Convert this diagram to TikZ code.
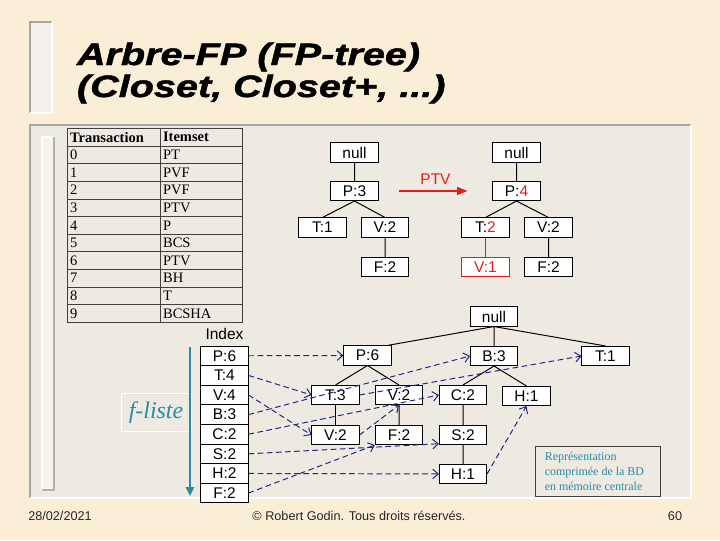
\documentclass[tikz,border=0pt]{standalone}
\usepackage{fontspec}
\setmainfont{Liberation Serif}
\setsansfont{Liberation Sans}
\newfontfamily\titlefont[FakeStretch=1.28,FakeBold=1.5]{Liberation Sans}
\usetikzlibrary{arrows.meta,positioning,calc}

\definecolor{parchment}{RGB}{250,239,214}
\definecolor{panelgray}{RGB}{238,234,226}
\definecolor{linkblue}{RGB}{35,35,135}
\definecolor{flistecol}{RGB}{38,140,166}
\definecolor{ptvred}{RGB}{225,30,30}

\begin{document}
\begin{tikzpicture}[x=0.025cm, y=-0.025cm,
  tn/.style={draw, fill=white, minimum width=1.18cm, minimum height=0.48cm, inner sep=0pt,
             line width=0.6pt, font=\sffamily\fontsize{11}{13}\selectfont},
  cell/.style={draw=black!75, anchor=north west, minimum height=0.441cm, inner sep=2pt,
               font=\fontsize{10.3}{12}\selectfont},
  tedge/.style={line width=0.7pt},
  lnk/.style={draw=linkblue, line width=0.7pt, dash pattern=on 4pt off 2.5pt,
              -{Straight Barb[length=1.4mm, width=2.4mm]}},
  ptvarr/.style={ptvred, line width=1pt, -{Triangle[length=2.6mm, width=2mm]},
                 shorten <=0.5cm, shorten >=0.625cm},
  flarr/.style={flistecol, line width=1.4pt, -{Triangle[length=2.2mm, width=2mm]}},
  foot/.style={font=\sffamily\fontsize{9}{11}\selectfont, text=black!85}
]

% slide background and panel
\fill[parchment] (0,0) rectangle (720,540);
\fill[panelgray!70!white] (30,22) rectangle (52,113);
\draw[gray!70, line width=0.8pt] (30,113) -- (30,22) -- (52,22);
\draw[white, line width=0.8pt] (52,22) -- (52,113) -- (30,113);
\fill[panelgray] (30,125) rectangle (691,498);
\draw[gray!70, line width=1.5pt] (30,498) -- (30,125) -- (691,125);
\draw[white, line width=1.5pt] (691,125) -- (691,498) -- (30,498);
\fill[panelgray!60!white] (42,137) rectangle (54,490);
\draw[white, line width=0.8pt] (42,490) -- (42,137) -- (54,137);
\draw[gray!60, line width=0.8pt] (54,137) -- (54,490) -- (42,490);

% title
\node[anchor=base west, font=\titlefont\bfseries\itshape\fontsize{22}{26}\selectfont] (title1) at (72,65) {Arbre-FP (FP-tree)};
\node[anchor=base west, font=\titlefont\bfseries\itshape\fontsize{22}{26}\selectfont] (title2) at (72,97) {(Closet, Closet+, ...)};

% transaction table
\node[cell, text width=2.18cm, font=\bfseries\fontsize{10.3}{12}\selectfont] (th1) at (67,128) {Transaction};
\node[cell, text width=1.9cm, font=\bfseries\fontsize{10.3}{12}\selectfont] (th2) at (160,128) {Itemset};
\foreach \t/\s in {0/PT,1/PVF,2/PVF,3/PTV,4/P,5/BCS,6/PTV,7/BH,8/T,9/BCSHA}{
  \node[cell, text width=2.18cm] (tr\t) at (67,{145.64+17.64*\t}) {\t};
  \node[cell, text width=1.9cm] (ts\t) at (160,{145.64+17.64*\t}) {\s};
}

% insertion of PTV
\node[tn] (nullA) at (354.5,152.5) {null};
\node[tn] (P3) at (354.5,191) {P:3};
\node[tn] (T1a) at (322.5,227.5) {T:1};
\node[tn] (V2t) at (385,227.5) {V:2};
\node[tn] (F2t) at (385,267) {F:2};

\node[tn] (nullB) at (516.5,152.5) {null};
\node[tn] (P4) at (516.5,191) {P:\textcolor{ptvred}{4}};
\node[tn] (T2) at (485.5,227.5) {T:\textcolor{ptvred}{2}};
\node[tn] (V2r) at (548.5,227.5) {V:2};
\node[tn, draw=ptvred, text=ptvred] (V1) at (485.5,267) {V:1};
\node[tn] (F2r) at (548.5,267) {F:2};

\draw[tedge] (nullA) -- (P3) (P3.south) -- (T1a.north) (P3.south) -- (V2t.north) (V2t) -- (F2t);
\draw[tedge] (nullB) -- (P4) (P4.south) -- (T2.north) (P4.south) -- (V2r.north) (V2r) -- (F2r);
\draw[tedge, ptvred] (T2) -- (V1);
\draw[ptvarr] (P3) -- node[above=1pt, font=\sffamily\fontsize{11}{13}\selectfont, text=ptvred] (ptv) {PTV} (P4);

% index (f-liste)
\foreach \n/\l [count=\i from 0] in {P/P:6,T/T:4,V/V:4,B/B:3,C/C:2,S/S:2,H/H:2,F/F:2}
  \node[tn, minimum height=0.49cm] (i\n) at (224.5,{355.8+19.6*\i}) {\l};
\node[above=1pt of iP, font=\sffamily\fontsize{11}{13}\selectfont] (idxlbl) {Index};

\node[draw=white, line width=0.6pt, minimum width=1.75cm, minimum height=0.93cm, inner sep=0pt,
      font=\itshape\fontsize{17}{20}\selectfont, text=flistecol] (fl) at (156,412.5) {f-liste};
\coordinate (ftop) at (190,347);
\coordinate (fbot) at (190,496);
\draw[flarr] (ftop) -- (fbot);

% compressed FP-tree
\node[tn] (nullC) at (494,316.5) {null};
\node[tn] (P6) at (367.5,355.5) {P:6};
\node[tn] (B3) at (494,356) {B:3};
\node[tn] (T1) at (605.5,356) {T:1};
\node[tn] (T3) at (335.5,395) {T:3};
\node[tn] (V2u) at (399,395) {V:2};
\node[tn] (C2) at (463,395) {C:2};
\node[tn] (H1u) at (526.5,396) {H:1};
\node[tn] (V2d) at (335.5,435) {V:2};
\node[tn] (F2) at (399,435) {F:2};
\node[tn] (S2) at (463,435) {S:2};
\node[tn] (H1d) at (463,474) {H:1};

\draw[tedge] (nullC.south) -- (P6.27) (nullC.south) -- (B3) (nullC.south) -- (T1.north);
\draw[tedge] (P6.south) -- (T3.north) (P6.south) -- (V2u.north) (T3) -- (V2d) (V2u) -- (F2);
\draw[tedge] (B3.south) -- (C2.north) (B3.south) -- (H1u.north) (C2) -- (S2) (S2) -- (H1d);

% node links
\draw[lnk] (iP) -- (P6);
\draw[lnk] (iT.east) -- (T3.west);
\draw[lnk] (iV.east) -- (V2d.west);
\draw[lnk] (iB.east) -- (B3.west);
\draw[lnk] (iC.east) -- (C2.west);
\draw[lnk] (iS.east) -- (S2.200);
\draw[lnk] (iH) -- (H1d);
\draw[lnk] (iF.east) -- (F2.south west);
\draw[lnk] (T3.east) -- (T1.west);
\draw[lnk] (V2d.east) -- (V2u.south);
\draw[lnk] (H1d.east) -- (H1u.south);

\node[draw=black!75, anchor=north west, minimum width=3.12cm, minimum height=1.25cm, inner sep=0pt] (repr) at (535,446) {};
\node[anchor=west, align=left, text=flistecol, font=\fontsize{8.5}{10.5}\selectfont] (reprtxt) at ([xshift=0.12cm]repr.west) {Représentation\\comprimée de la BD\\en mémoire centrale};

% footer
\node[foot] (date) at (60,516) {28/02/2021};
\node[foot] (copy) at (359,516) {© Robert Godin. Tous droits réservés.};
\node[foot] (page) at (675,516) {60};
\end{tikzpicture}
\end{document}
